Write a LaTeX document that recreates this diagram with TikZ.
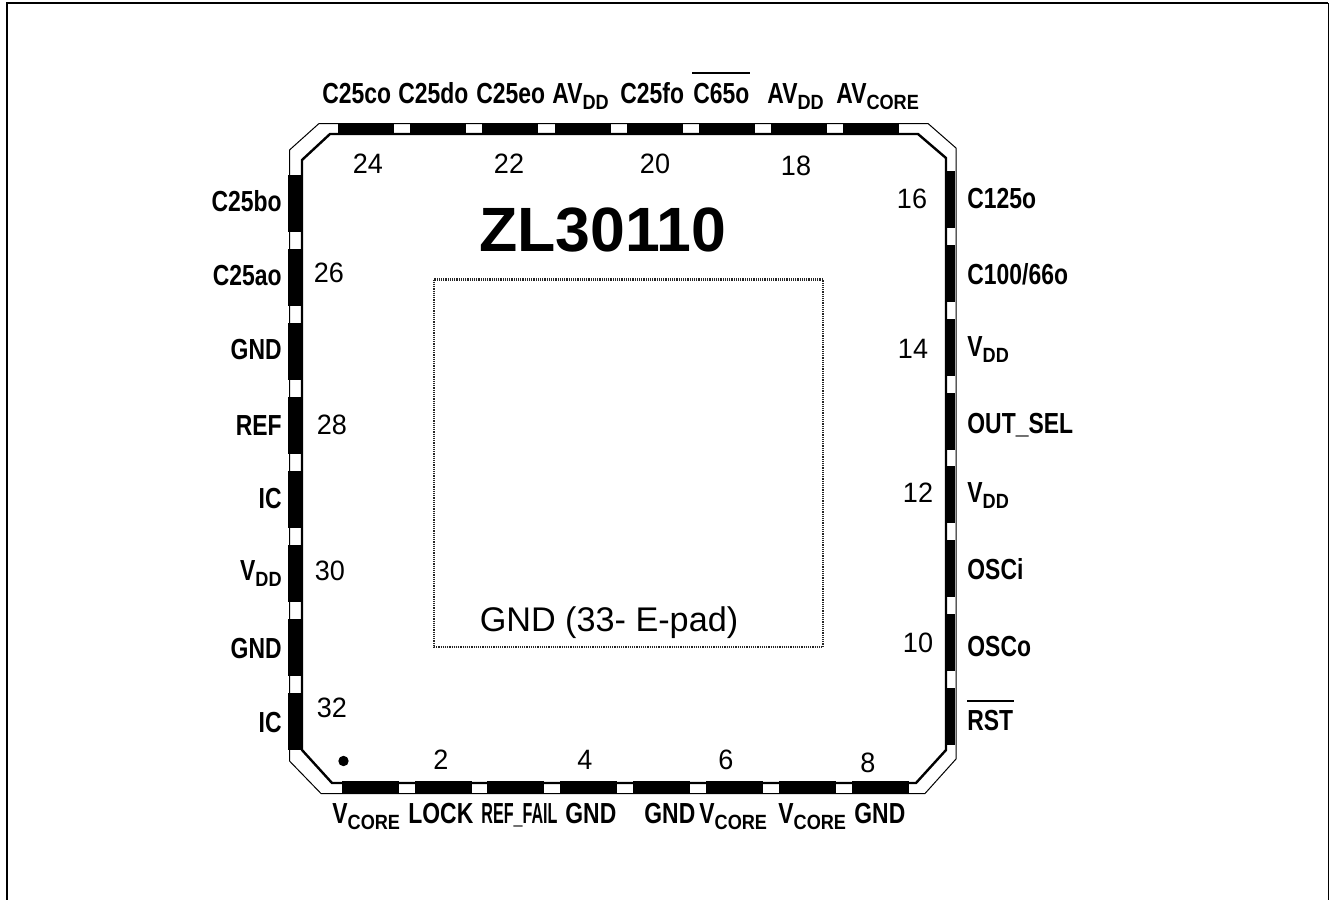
\documentclass[tikz,border=0pt]{standalone}
\usepackage{fontspec}
\setmainfont{Liberation Sans}
\newfontfamily\pinfam[FakeStretch=0.79]{Liberation Sans Bold}
\newfontfamily\subfam[FakeStretch=0.88]{Liberation Sans Bold}
\newfontfamily\narrowfam[FakeStretch=0.556]{Liberation Sans Bold}
\newfontfamily\numfam[FakeStretch=0.965]{Liberation Sans}
\newcommand{\pinsub}[1]{\raisebox{-3pt}{\subfam\fontsize{10.3pt}{11pt}\selectfont #1}}
\tikzset{
  pinlab/.style={inner sep=0pt,font=\pinfam\fontsize{14.5pt}{15pt}\selectfont},
  numlab/.style={inner sep=0pt,anchor=base,font=\numfam\fontsize{14pt}{15pt}\selectfont},
  pinbar/.style={fill=black,draw=none},
  pkgthin/.style={draw=black,line width=0.5pt,line join=miter},
  pkgthick/.style={draw=black,line width=1.2pt,line join=miter},
  padline/.style={draw=black!85,line width=1.1pt,dash pattern=on 0.6pt off 0.5pt},
  overbar/.style={draw=black,line width=1.4pt},
  framethick/.style={draw=black,line width=1pt},
  framethin/.style={draw=black,line width=0.5pt}
}
\begin{document}
\begin{tikzpicture}[x=0.5pt,y=-0.5pt]
\useasboundingbox (0,0) rectangle (1329,900);
% page frame
\draw[framethick] (7,900) -- (7,3) -- (1328,3);
\draw[framethin] (1328.6,3) -- (1328.6,900);
% package outline
\draw[pkgthin] (319,123.5) -- (928,123.5) -- (956,148) -- (956,759) -- (925,793.5) -- (321,793.5) -- (289.5,761) -- (289.5,150) -- cycle;
\draw[pkgthick] (330,134) -- (918,134) -- (946,158) -- (946,750) -- (916,783) -- (332,783) -- (302,750) -- (302,160) -- cycle;
% top pins
\foreach \xa in {338,410,482,555,627,699,771,843}
  \fill[pinbar] (\xa,123) rectangle ++(56,11.5);
% bottom pins
\foreach \xa in {342,415,487,560,633,706,779,852}
  \fill[pinbar] (\xa,781) rectangle ++(56.5,13);
% left pins
\foreach \ya in {175,249,323,397,471,545,619,693}
  \fill[pinbar] (288,\ya) rectangle ++(14.5,56.5);
% right pins
\foreach \ya in {171,245,319,393,466,540,614,688}
  \fill[pinbar] (945,\ya) rectangle ++(10,57);
% exposed pad
\draw[padline] (434,279.5) rectangle (823,647);
\node[inner sep=0pt,anchor=base,font=\fontsize{17.1pt}{18pt}\selectfont] (epad) at (609,631) {GND (33- E-pad)};
\node[inner sep=0pt,anchor=base,font=\bfseries\fontsize{31.3pt}{32pt}\selectfont] (title) at (603,251) {ZL30110};
\fill (343.5,761) circle (2.6pt);
% top labels
\node[pinlab,anchor=base west] (t1) at (322,103) {C25co};
\node[pinlab,anchor=base west] (t2) at (398,103) {C25do};
\node[pinlab,anchor=base west] (t3) at (476,103) {C25eo};
\node[pinlab,anchor=base west] (t4) at (552,103) {AV\pinsub{DD}};
\node[pinlab,anchor=base west] (t5) at (620,103) {C25fo};
\node[pinlab,anchor=base west] (t6) at (693,103) {C65o};
\node[pinlab,anchor=base west] (t7) at (767,103) {AV\pinsub{DD}};
\node[pinlab,anchor=base west] (t8) at (836,103) {AV\pinsub{CORE}};
\draw[overbar] (692,73) -- (750,73);
% bottom labels
\node[pinlab,anchor=base west] (b1) at (332,823) {V\pinsub{CORE}};
\node[pinlab,anchor=base west] (b2) at (408,823) {LOCK};
\node[inner sep=0pt,anchor=base west,font=\narrowfam\fontsize{14.5pt}{15pt}\selectfont] (b3) at (481,823) {REF\_FAIL};
\node[pinlab,anchor=base west] (b4) at (565,823) {GND};
\node[pinlab,anchor=base west] (b5) at (644,823) {GND};
\node[pinlab,anchor=base west] (b6) at (699,823) {V\pinsub{CORE}};
\node[pinlab,anchor=base west] (b7) at (778,823) {V\pinsub{CORE}};
\node[pinlab,anchor=base west] (b8) at (854,823) {GND};
% left labels
\node[pinlab,anchor=base east] (l1) at (282,211) {C25bo};
\node[pinlab,anchor=base east] (l2) at (282,285) {C25ao};
\node[pinlab,anchor=base east] (l3) at (282,359) {GND};
\node[pinlab,anchor=base east] (l4) at (282,435) {REF};
\node[pinlab,anchor=base east] (l5) at (282,508) {IC};
\node[pinlab,anchor=base east] (l6) at (282,580) {V\pinsub{DD}};
\node[pinlab,anchor=base east] (l7) at (282,658) {GND};
\node[pinlab,anchor=base east] (l8) at (282,732) {IC};
% right labels
\node[pinlab,anchor=base west] (r1) at (967,208) {C125o};
\node[pinlab,anchor=base west] (r2) at (967,284) {C100/66o};
\node[pinlab,anchor=base west] (r3) at (967,356) {V\pinsub{DD}};
\node[pinlab,anchor=base west] (r4) at (967,433) {OUT\_SEL};
\node[pinlab,anchor=base west] (r5) at (967,502) {V\pinsub{DD}};
\node[pinlab,anchor=base west] (r6) at (967,579) {OSCi};
\node[pinlab,anchor=base west] (r7) at (967,656) {OSCo};
\node[pinlab,anchor=base west] (r8) at (967,730) {RST};
\draw[overbar] (967,701) -- (1014,701);
% pin numbers
\node[numlab] (n24) at (368,173) {24};
\node[numlab] (n22) at (509,173) {22};
\node[numlab] (n20) at (655,173) {20};
\node[numlab] (n18) at (796,175) {18};
\node[numlab] (n16) at (912,208) {16};
\node[numlab] (n14) at (913,358) {14};
\node[numlab] (n12) at (918,502) {12};
\node[numlab] (n10) at (918,652) {10};
\node[numlab] (n26) at (329,282) {26};
\node[numlab] (n28) at (332,434) {28};
\node[numlab] (n30) at (330,580) {30};
\node[numlab] (n32) at (332,717) {32};
\node[numlab] (n2) at (441,769) {2};
\node[numlab] (n4) at (585,769) {4};
\node[numlab] (n6) at (726,769) {6};
\node[numlab] (n8) at (868,772) {8};
\end{tikzpicture}
\end{document}
